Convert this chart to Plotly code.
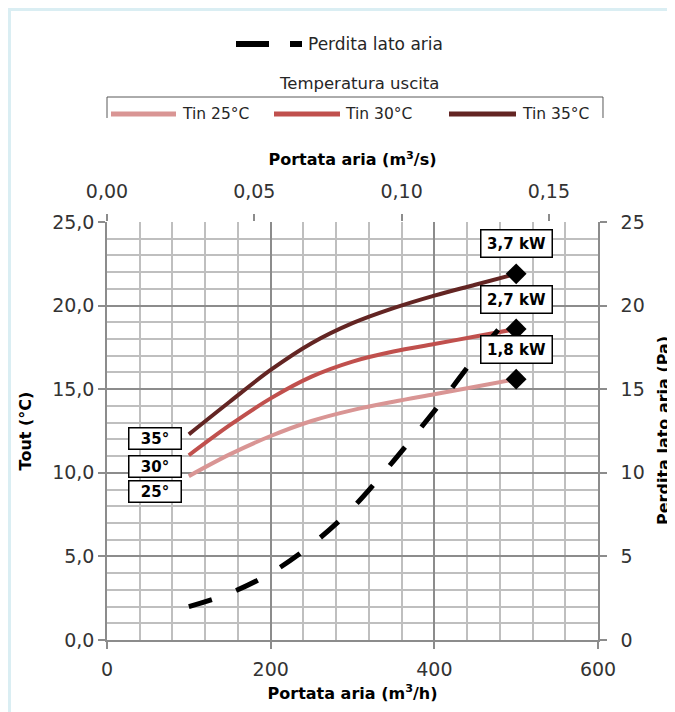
import plotly.graph_objects as go

# ---------------- data ----------------
flow_m3h = [100, 150, 200, 250, 300, 350, 400, 450, 500]
tin25 = [9.8, 11.1, 12.2, 13.1, 13.75, 14.25, 14.7, 15.15, 15.6]
tin30 = [11.05, 12.85, 14.45, 15.75, 16.65, 17.25, 17.7, 18.15, 18.6]
tin35 = [12.3, 14.25, 16.15, 17.75, 18.95, 19.85, 20.6, 21.25, 21.9]
pressure_pa = [2.0, 2.8, 4.0, 5.7, 7.9, 10.7, 13.7, 16.9, 19.8]

series_names = ["Tin 25°C", "Tin 30°C", "Tin 35°C"]
start_labels = ["25°", "30°", "35°"]
power_labels = ["1,8 kW", "2,7 kW", "3,7 kW"]
pressure_name = "Perdita lato aria"
legend_group_title = "Temperatura uscita"

x_ticks_h = [0, 200, 400, 600]
x_ticks_s = [0.00, 0.05, 0.10, 0.15]
y_ticks = [0, 5, 10, 15, 20, 25]

# ---------------- styles ----------------
colors = ["#D99594", "#C0504D", "#632523"]
FONT = "DejaVu Sans"
TICK_COLOR = "#333333"
MAJOR_GRID = "#8C8C8C"
MINOR_GRID = "#BFBFBF"
OFF = 8                      # page body margin
W, H = 667, 704
ML, MR, MT, MB = 99, 77, 214, 72
PW, PH = W - ML - MR, H - MT - MB


def fx(px):   # page pixel -> paper
    return (px - OFF - ML) / PW


def fy(py):
    return (H - MB - (py - OFF)) / PH


flow_m3s = [q / 3600 for q in flow_m3h]
series = [tin25, tin30, tin35]

fig = go.Figure()

for name, ys, c in zip(series_names, series, colors):
    fig.add_trace(go.Scatter(
        x=flow_m3h, y=ys, name=name, mode="lines",
        line=dict(color=c, width=4, shape="spline", smoothing=1.0),
        xaxis="x", yaxis="y", showlegend=False,
    ))

# pressure drop on the secondary axes (m3/s, Pa)
fig.add_trace(go.Scatter(
    x=flow_m3s, y=pressure_pa, name=pressure_name, mode="lines",
    line=dict(color="black", width=5, dash="24px,26px", shape="spline", smoothing=1.0),
    xaxis="x2", yaxis="y2", showlegend=False,
))

# power points at the end of each curve
fig.add_trace(go.Scatter(
    x=[flow_m3h[-1]] * 3, y=[s[-1] for s in series], mode="markers",
    marker=dict(symbol="diamond", size=16, color="black"),
    xaxis="x", yaxis="y", showlegend=False, name="Potenza",
))

annotations = []
box_font = dict(family=FONT, size=15, color="black")
start_shifts = [-15, -11, -4]
for lab, ys, sh in zip(start_labels, series, start_shifts):
    annotations.append(dict(
        x=flow_m3h[0], y=ys[0], xref="x", yref="y", text="<b>%s</b>" % lab,
        showarrow=False, xanchor="right", yanchor="middle", xshift=-7, yshift=sh,
        font=box_font, bgcolor="white", bordercolor="black", borderwidth=1.5,
        borderpad=1, width=49, height=18,
    ))
for lab, ys in zip(power_labels, series):
    annotations.append(dict(
        x=flow_m3h[-1], y=ys[-1], xref="x", yref="y", text="<b>%s</b>" % lab,
        showarrow=False, xanchor="center", yanchor="middle", yshift=30,
        font=box_font, bgcolor="white", bordercolor="black", borderwidth=1.5,
        borderpad=1, width=68, height=24,
    ))

# legend texts
leg_font = dict(family=FONT, size=17, color="#262626")
annotations.append(dict(x=fx(306), y=fy(44), xref="paper", yref="paper", text=pressure_name,
                        showarrow=False, xanchor="left", yanchor="middle", font=leg_font))
annotations.append(dict(x=fx(359), y=fy(83), xref="paper", yref="paper", text=legend_group_title,
                        showarrow=False, xanchor="center", yanchor="middle",
                        font=dict(family=FONT, size=16.5, color="#262626")))
item_text_x = [180, 343, 520]
for name, tx in zip(series_names, item_text_x):
    annotations.append(dict(x=fx(tx), y=fy(114), xref="paper", yref="paper", text=name,
                            showarrow=False, xanchor="left", yanchor="middle",
                            font=dict(family=FONT, size=15.5, color="#262626")))

# right axis title (partially cut at the edge like the original)
annotations.append(dict(x=fx(663), y=fy(431), xref="paper", yref="paper",
                        text="<b>Perdita lato aria (Pa)</b>", textangle=-90, showarrow=False,
                        xanchor="center", yanchor="middle",
                        font=dict(family=FONT, size=16, color="black")))

shapes = []
# light blue frame
shapes.append(dict(type="rect", xref="paper", yref="paper", x0=fx(9.5), y0=fy(9.5), x1=fx(760), y1=fy(800),
                   line=dict(color="#DAEEF3", width=3), layer="below"))
# legend samples
shapes.append(dict(type="line", xref="paper", yref="paper", x0=fx(236), x1=fx(302), y0=fy(44), y1=fy(44),
                   line=dict(color="black", width=6, dash="33px,21px")))
sample_x = [(111, 176), (274, 340), (449, 516)]
for (a, b), c in zip(sample_x, colors):
    shapes.append(dict(type="line", xref="paper", yref="paper", x0=fx(a), x1=fx(b), y0=fy(114), y1=fy(114),
                       line=dict(color=c, width=5)))
# bracket around the series legend
shapes.append(dict(type="path", xref="paper", yref="paper",
                   path="M %f,%f L %f,%f L %f,%f L %f,%f" % (fx(107), fy(118), fx(107), fy(97),
                                                            fx(603), fy(97), fx(603), fy(118)),
                   line=dict(color="#595959", width=1)))

tickfont = dict(family=FONT, size=19, color=TICK_COLOR)
title_font = dict(family=FONT, size=16, color="black")

fig.update_layout(
    width=W, height=H,
    margin=dict(l=ML, r=MR, t=MT, b=MB, pad=0),
    paper_bgcolor="white", plot_bgcolor="white",
    separators=",.",
    showlegend=False,
    font=dict(family=FONT, color=TICK_COLOR),
    xaxis=dict(
        range=[0, 600], tickvals=x_ticks_h, ticks="outside", ticklen=7, tickcolor=MAJOR_GRID, tickwidth=1.5,
        ticklabelstandoff=4,
        showgrid=True, gridcolor=MAJOR_GRID, gridwidth=1.5,
        minor=dict(dtick=40, tick0=0, showgrid=True, gridcolor=MINOR_GRID, gridwidth=1.5),
        showline=True, linecolor=MAJOR_GRID, linewidth=1.5, zeroline=False,
        tickfont=tickfont,
        title=dict(text="<b>Portata aria (m<sup>3</sup>/h)</b>", font=title_font, standoff=9),
    ),
    xaxis2=dict(
        overlaying="x", side="top", anchor="y", range=[0, 600 / 3600], tickvals=x_ticks_s,
        tickformat=".2f", ticks="outside", ticklen=7, tickcolor=MAJOR_GRID, tickwidth=1.5,
        ticklabelstandoff=8,
        showgrid=False, zeroline=False, showline=False, tickfont=tickfont,
        title=dict(text="<b>Portata aria (m<sup>3</sup>/s)</b>", font=title_font, standoff=10),
    ),
    yaxis=dict(
        range=[0, 25], tickvals=y_ticks, tickformat=".1f", ticks="outside", ticklen=7,
        tickcolor=MAJOR_GRID, tickwidth=1.5,
        showgrid=True, gridcolor=MAJOR_GRID, gridwidth=1.5,
        minor=dict(dtick=1, tick0=0, showgrid=True, gridcolor=MINOR_GRID, gridwidth=1.5),
        showline=True, linecolor=MAJOR_GRID, linewidth=1.5, zeroline=False, tickfont=tickfont,
        title=dict(text="<b>Tout (°C)</b>", font=title_font, standoff=17),
    ),
    yaxis2=dict(
        overlaying="y", side="right", anchor="x", range=[0, 25], tickvals=y_ticks, tickformat="d",
        ticks="outside", ticklen=7, tickcolor=MAJOR_GRID, tickwidth=1.5, ticklabelstandoff=10,
        showgrid=False, zeroline=False, showline=True, linecolor=MAJOR_GRID, linewidth=1.5,
        tickfont=tickfont,
    ),
    annotations=annotations,
    shapes=shapes,
)

fig.write_html("out.html")
